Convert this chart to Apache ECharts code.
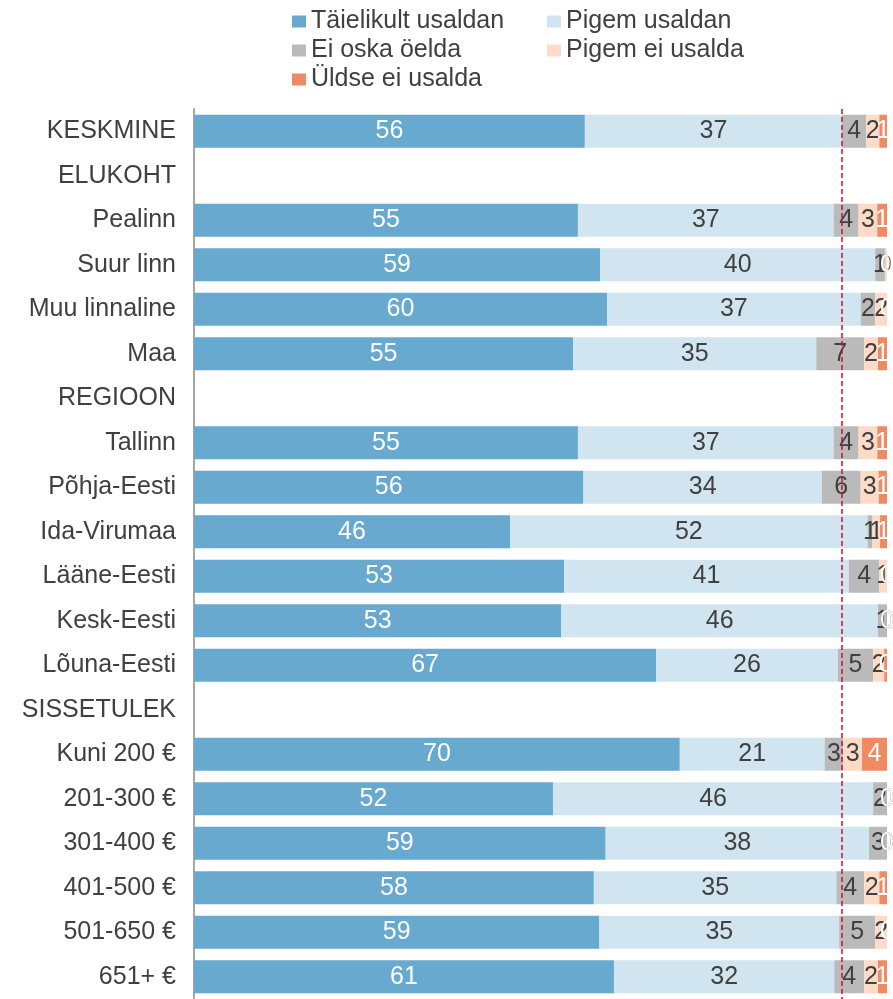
<!DOCTYPE html>
<html>
<head>
<meta charset="utf-8">
<title>Usaldus</title>
<script src="https://cdn.jsdelivr.net/npm/echarts@6/dist/echarts.min.js"></script>
<style>
  html, body { margin: 0; padding: 0; background: #fff; }
  #chart { width: 893px; height: 999px; }
</style>
</head>
<body>
<div id="chart"></div>
<script>
const categories = ['KESKMINE', 'ELUKOHT', 'Pealinn', 'Suur linn', 'Muu linnaline', 'Maa',
  'REGIOON', 'Tallinn', 'Põhja-Eesti', 'Ida-Virumaa', 'Lääne-Eesti', 'Kesk-Eesti', 'Lõuna-Eesti',
  'SISSETULEK', 'Kuni 200 €', '201-300 €', '301-400 €', '401-500 €', '501-650 €', '651+ €'];

// shares in %, header rows are empty
const taielikult = [56.4, null, 55.4, 58.6, 59.6, 54.7, null, 55.4, 56.2, 45.6, 53.4, 53.0, 66.7, null, 70.1, 51.8, 59.4, 57.7, 58.5, 60.6];
const pigem      = [37.1, null, 36.9, 39.7, 36.6, 35.1, null, 36.9, 34.4, 51.6, 41.1, 45.7, 26.2, null, 20.9, 46.2, 38.0, 35.0, 34.6, 31.8];
const eiOska     = [3.5,  null, 3.6,  1.4,  2.1,  6.9,  null, 3.6,  5.6,  0.7,  4.4,  1.3,  5.1,  null, 2.7,  2.0,  2.6,  4.0,  5.2,  4.3];
const pigemEi    = [1.9,  null, 2.7,  0.3,  1.7,  2.0,  null, 2.7,  2.6,  1.1,  1.1,  0,    1.6,  null, 2.7,  0,    0,    2.2,  1.7,  2.0];
const uldse      = [1.1,  null, 1.4,  0,    0,    1.3,  null, 1.4,  1.2,  1.0,  0,    0,    0.4,  null, 3.6,  0,    0,    1.1,  0,    1.3];

const names = ['Täielikult usaldan', 'Pigem usaldan', 'Ei oska öelda', 'Pigem ei usalda', 'Üldse ei usalda'];
const colors = ['#67a9cf', '#d1e5f0', '#bababa', '#fddbc7', '#ef8a62'];
const labelColors = ['#ffffff', '#404040', '#404040', '#404040', '#ffffff'];
const values = [taielikult, pigem, eiOska, pigemEi, uldse];

// dashed reference = average "trust" share
const trustAvg = taielikult[0] + pigem[0];

const FONT = 'Liberation Sans, Arial, sans-serif';
const TEXT = '#404040';

const chart = echarts.init(document.getElementById('chart'));

const legendPos = [[292, 9], [547, 9], [292, 38], [547, 38], [292, 67]];
const legends = names.map((n, i) => ({
  data: [n],
  left: legendPos[i][0],
  top: legendPos[i][1],
  padding: 0,
  icon: 'rect',
  itemWidth: 14,
  itemHeight: 12,
  selectedMode: false,
  textStyle: { fontFamily: FONT, fontSize: 25, lineHeight: 25, color: TEXT },
}));

const series = names.map((n, i) => {
  const s = {
    name: n,
    type: 'bar',
    stack: 'total',
    barWidth: 33,
    data: values[i],
    itemStyle: { color: colors[i] },
    label: {
      show: true,
      position: 'inside',
      fontFamily: FONT,
      fontSize: 25,
      color: labelColors[i],
      formatter: (p) => String(Math.round(p.value)),
    },
  };
  if (i === 0) {
    s.markLine = {
      silent: true,
      symbol: 'none',
      label: { show: false },
      lineStyle: { color: '#c8102e', type: [5, 3], width: 1.5 },
      data: [{ xAxis: trustAvg }],
    };
  }
  return s;
});

chart.setOption({
  animation: false,
  legend: legends,
  grid: { left: 194, top: 109, right: 6, height: 894, containLabel: false },
  xAxis: {
    type: 'value',
    min: 0,
    max: 100,
    show: false,
  },
  yAxis: {
    type: 'category',
    inverse: true,
    data: categories,
    axisLine: { show: true, lineStyle: { color: '#a6a6a6', width: 2 } },
    axisTick: { show: false },
    splitLine: { show: false },
    axisLabel: { fontFamily: FONT, fontSize: 25, color: TEXT, margin: 18 },
  },
  series: series,
});
</script>
</body>
</html>
